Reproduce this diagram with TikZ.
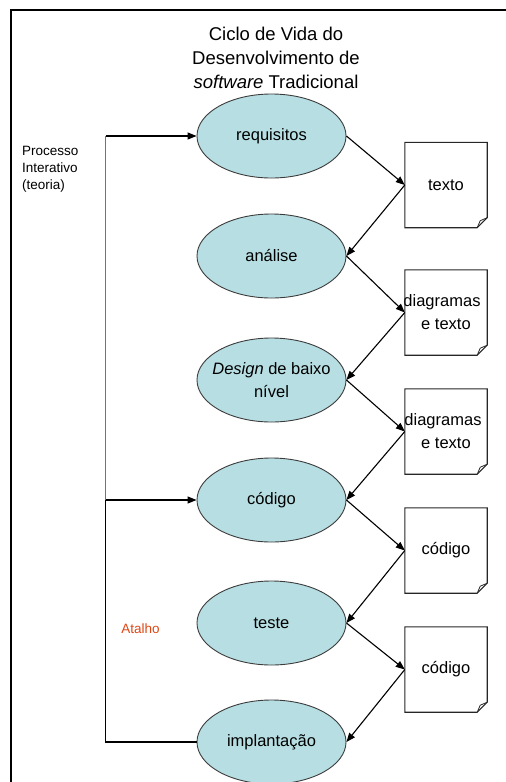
\documentclass[tikz,border=0pt]{standalone}
\usepackage{fontspec}
\setmainfont{Liberation Sans}
\usetikzlibrary{shapes.geometric,arrows.meta,calc}
\definecolor{stagefill}{RGB}{183,223,227}
\definecolor{stageline}{RGB}{60,60,60}
\definecolor{shortcut}{RGB}{222,70,20}

\begin{document}
\begin{tikzpicture}[x=1pt,y=-1pt,
  stage/.style={ellipse, draw=stageline, line width=0.9pt, fill=stagefill,
    minimum width=149pt, minimum height=84pt, inner sep=0pt,
    font=\fontsize{16.5}{23}\selectfont, align=center},
  docnode/.style={minimum width=82pt, minimum height=85pt, inner sep=0pt,
    font=\fontsize{16.5}{23}\selectfont, align=center},
  docline/.style={line width=1.1pt, draw=black!85, line join=miter},
  flow/.style={draw=black, line width=1.1pt, -{Triangle[length=9pt,width=7pt]}},
  loopline/.style={draw=black, line width=1.1pt},
]
\useasboundingbox (0,0) rectangle (506,782);

% frame (top and left edges only)
\draw[line width=2.5pt] (11,782) -- (11,10) -- (506,10);

% title
\node[font=\fontsize{18.5}{24}\selectfont, align=center, anchor=north, inner sep=0pt]
  (title) at (276,27) {Ciclo de Vida do\\Desenvolvimento de\\\textit{software} Tradicional};

% side notes
\node[font=\fontsize{13.5}{17}\selectfont, align=left, anchor=north west, inner sep=0pt]
  (side) at (22,146) {Processo\\Interativo\\(teoria)};
\node[font=\fontsize{13.5}{17}\selectfont, text=shortcut, inner sep=0pt]
  (atalho) at (140.5,628.5) {Atalho};

% life-cycle stages
\node[stage] (req) at (271.5,136) {requisitos};
\node[stage] (ana) at (271.5,256) {análise};
\node[stage, label={[font=\fontsize{16.5}{23}\selectfont, align=center, inner sep=0pt]center:\textit{Design} de baixo\\nível}]
  (des) at (271.5,380) {};
\node[stage] (cod) at (271.5,500) {código};
\node[stage] (tst) at (271.5,623) {teste};
\node[stage] (imp) at (271.5,742) {implantação};

% produced documents
\node[docnode] (d1) at (446,185) {texto};
\node[docnode] (d2) at (446,312.5) {\hspace*{-8pt}diagramas\\e texto};
\node[docnode] (d3) at (446,431.5) {\hspace*{-6pt}diagramas\\e texto};
\node[docnode] (d4) at (446,550.5) {código};
\node[docnode] (d5) at (446,669.5) {código};

% document outlines with a folded corner
\foreach \d in {d1,d2,d3,d4,d5} {
  \draw[docline] (\d.north west) -- (\d.north east)
    -- ($(\d.south east)+(0,-10)$) -- ($(\d.south east)+(-10,0)$)
    -- (\d.south west) -- cycle;
  \draw[docline, line width=0.8pt] ($(\d.south east)+(0,-10)$) -- ($(\d.south east)+(-7,-7)$)
    -- ($(\d.south east)+(-10,0)$);
}

% stage -> document -> next stage
\draw[flow] (req.east) -- (d1.west);
\draw[flow] (d1.west) -- (ana.east);
\draw[flow] (ana.east) -- (d2.west);
\draw[flow] (d2.west) -- (des.east);
\draw[flow] (des.east) -- (d3.west);
\draw[flow] (d3.west) -- (cod.east);
\draw[flow] (cod.east) -- (d4.west);
\draw[flow] (d4.west) -- (tst.east);
\draw[flow] (tst.east) -- (d5.west);
\draw[flow] (d5.west) -- (imp.east);

% feedback loop and shortcut
\coordinate (looptop) at (105.5,136);
\coordinate (loopmid) at (105.5,500);
\coordinate (loopbot) at (105.5,742);
\draw[loopline] (imp.west) -- (loopbot) -- (loopmid);
\draw[loopline, draw=black!55] (loopmid) -- (looptop);
\draw[flow] (looptop) -- (req.west);
\draw[flow] (loopmid) -- (cod.west);
\end{tikzpicture}
\end{document}
